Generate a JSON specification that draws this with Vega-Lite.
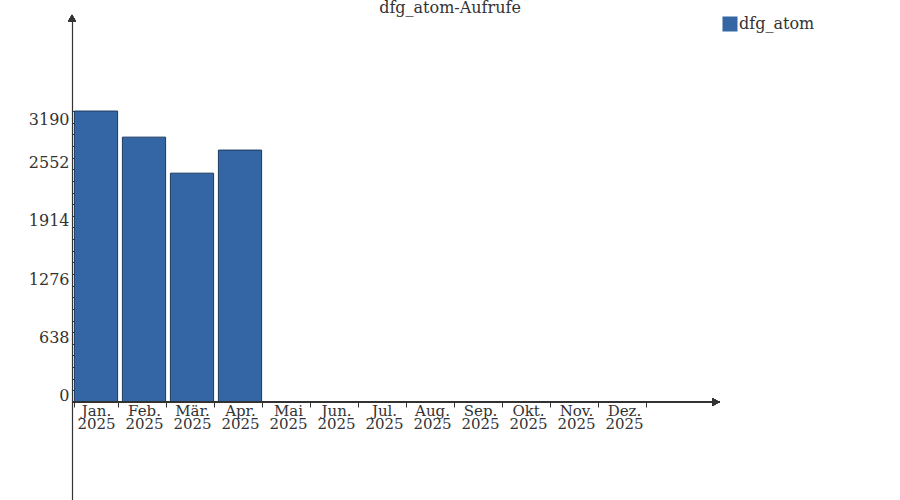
{
  "$schema": "https://vega.github.io/schema/vega-lite/v6.json",
  "autosize": "none",
  "width": 648,
  "height": 482,
  "padding": {"left": 72, "top": 18, "right": 180, "bottom": 0},
  "background": "white",
  "title": {
    "text": "dfg_atom-Aufrufe",
    "font": "DejaVu Serif",
    "fontSize": 16,
    "fontWeight": "normal",
    "color": "#333333",
    "anchor": "middle",
    "frame": "group",
    "baseline": "alphabetic",
    "offset": 0,
    "dy": 14,
    "dx": 54
  },
  "config": {
    "view": {"stroke": null},
    "font": "DejaVu Serif"
  },
  "resolve": {"axis": {"y": "independent"}},
  "data": {
    "values": [
      {"monat": "Jan. 2025", "aufrufe": 3190, "serie": "dfg_atom"},
      {"monat": "Feb. 2025", "aufrufe": 2904, "serie": "dfg_atom"},
      {"monat": "Mär. 2025", "aufrufe": 2509, "serie": "dfg_atom"},
      {"monat": "Apr. 2025", "aufrufe": 2762, "serie": "dfg_atom"},
      {"monat": "Mai 2025", "aufrufe": null, "serie": "dfg_atom"},
      {"monat": "Jun. 2025", "aufrufe": null, "serie": "dfg_atom"},
      {"monat": "Jul. 2025", "aufrufe": null, "serie": "dfg_atom"},
      {"monat": "Aug. 2025", "aufrufe": null, "serie": "dfg_atom"},
      {"monat": "Sep. 2025", "aufrufe": null, "serie": "dfg_atom"},
      {"monat": "Okt. 2025", "aufrufe": null, "serie": "dfg_atom"},
      {"monat": "Nov. 2025", "aufrufe": null, "serie": "dfg_atom"},
      {"monat": "Dez. 2025", "aufrufe": null, "serie": "dfg_atom"}
    ]
  },
  "layer": [
    {
      "mark": {"type": "bar", "stroke": "#1d3a5e", "strokeWidth": 1},
      "encoding": {
        "x": {
          "field": "monat",
          "type": "nominal",
          "sort": null,
          "scale": {
            "domain": ["Jan. 2025", "Feb. 2025", "Mär. 2025", "Apr. 2025", "Mai 2025", "Jun. 2025", "Jul. 2025", "Aug. 2025", "Sep. 2025", "Okt. 2025", "Nov. 2025", "Dez. 2025"],
            "paddingInner": 0.1, "paddingOuter": 0.8, "align": 0.03125
          },
          "axis": {
            "title": null,
            "orient": "bottom",
            "offset": -98,
            "domain": false,
            "labelAngle": 0,
            "labelExpr": "split(datum.label, ' ')",
            "labelFont": "DejaVu Serif",
            "labelFontSize": 15,
            "labelColor": "#333333",
            "labelLineHeight": 13,
            "labelPadding": -4,
            "labelBaseline": "top",
            "labelOverlap": false,
            "tickBand": "extent",
            "tickSize": 5,
            "tickColor": "#333333",
            "tickWidth": 1,
            "grid": false
          }
        },
        "y": {
          "field": "aufrufe",
          "type": "quantitative",
          "scale": {"domain": [-1074, 4210], "nice": false, "zero": false},
          "axis": {
            "title": null,
            "orient": "left",
            "values": [0, 638, 1276, 1914, 2552, 3190],
            "format": "d",
            "labelFont": "DejaVu Serif",
            "labelFontSize": 16,
            "labelColor": "#333333",
            "labelBaseline": {"condition": {"test": "datum.value == 3190", "value": "top"}, "value": "alphabetic"},
            "labelOffset": {"condition": {"test": "datum.value == 3190", "value": 0}, "value": -1.5},
            "labelPadding": 6,
            "labelFlush": false,
            "labelOverlap": false,
            "tickSize": -3,
            "tickColor": "#333333",
            "domainColor": "#333333",
            "domainWidth": 1.2,
            "grid": false
          }
        },
        "color": {
          "field": "serie",
          "type": "nominal",
          "scale": {"range": ["#3465a4"]},
          "legend": {
            "title": null,
            "orient": "none",
            "legendX": 650,
            "legendY": -2,
            "symbolType": "square",
            "symbolSize": 225,
            "symbolStrokeWidth": 0,
            "symbolOpacity": 1,
            "labelFont": "DejaVu Serif",
            "labelFontSize": 16,
            "labelColor": "#333333",
            "labelOffset": 1,
            "padding": 0
          }
        }
      }
    },
    {
      "mark": {"type": "rule", "color": "#333333", "strokeWidth": 1.2},
      "encoding": {
        "y": {
          "datum": 0,
          "type": "quantitative",
          "axis": {
            "orient": "left",
            "title": null,
            "values": [127.6, 255.2, 382.8, 510.4, 765.6, 893.2, 1020.8, 1148.4, 1403.6, 1531.2, 1658.8, 1786.4, 2041.6, 2169.2, 2296.8, 2424.4, 2679.6, 2807.2, 2934.8, 3062.4],
            "labels": false,
            "domain": false,
            "grid": false,
            "tickSize": -3,
            "tickColor": "#333333"
          }
        }
      }
    },
    {
      "mark": {"type": "point", "shape": "triangle-right", "filled": true, "color": "#333333", "opacity": 1, "size": 60, "x": {"expr": "width - 4"}},
      "encoding": {"y": {"datum": 0, "type": "quantitative", "axis": null}}
    },
    {
      "mark": {"type": "point", "shape": "triangle-up", "filled": true, "color": "#333333", "opacity": 1, "size": 60, "x": 0},
      "encoding": {"y": {"datum": 4210, "type": "quantitative", "axis": null}}
    }
  ]
}
